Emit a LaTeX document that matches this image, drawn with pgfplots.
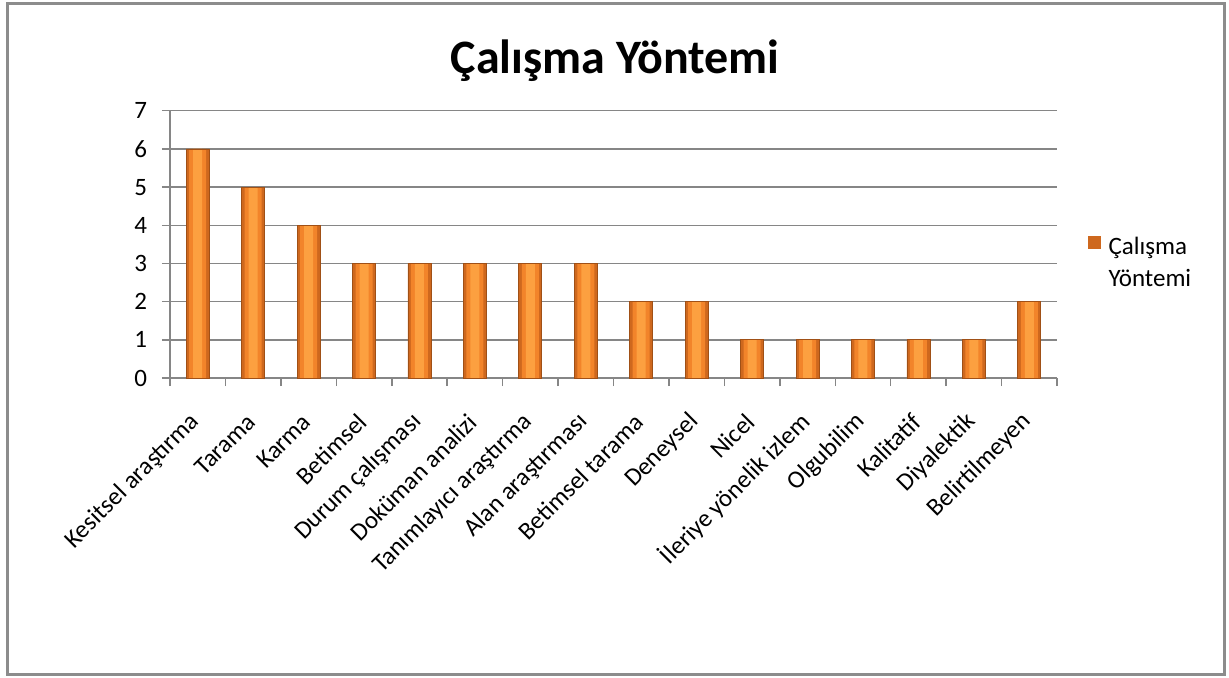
\documentclass[border=0pt]{standalone}
\usepackage{fontspec}
\setmainfont{Carlito}
\usepackage{pgfplots}
\usepackage{pgfplotstable}
\pgfplotsset{compat=1.18}
\definecolor{barlight}{RGB}{252,160,64}
\definecolor{barmid}{RGB}{242,132,42}
\definecolor{baredge}{RGB}{206,104,30}
\definecolor{bardark}{RGB}{160,80,22}
\definecolor{gridgray}{RGB}{134,134,134}
\definecolor{framegray}{RGB}{140,140,140}

% category index, count
\pgfplotstableread{
idx n
0 6
1 5
2 4
3 3
4 3
5 3
6 3
7 3
8 2
9 2
10 1
11 1
12 1
13 1
14 1
15 2
}\methods

\begin{document}
\begin{tikzpicture}
  % canvas: 1 px of the reference = 0.5pt
  \useasboundingbox (0pt,0pt) rectangle (614.5pt,338.5pt);
  \draw[framegray, line width=1.5pt] (3.5pt,1.2pt) rectangle (612pt,337pt);
  \node[font=\fontsize{24}{28}\selectfont\bfseries, anchor=base] at (307.5pt,302pt) {Çalışma Yöntemi};

  \begin{axis}[
    at={(85pt,149.5pt)}, anchor=south west,
    scale only axis,
    width=443.5pt, height=133.65pt,
    xmin=-0.5, xmax=15.5,
    ymin=0, ymax=7,
    axis x line*=bottom, axis y line*=left,
    axis line style={-, gridgray, line width=0.75pt},
    xtick={0,...,15},
    xticklabels={Kesitsel araştırma, Tarama, Karma, Betimsel, Durum çalışması,
      Doküman analizi, Tanımlayıcı araştırma, Alan araştırması, Betimsel tarama,
      Deneysel, Nicel, İleriye yönelik izlem, Olgubilim, Kalitatif, Diyalektik,
      Belirtilmeyen},
    minor xtick={-0.5,0.5,...,15.5},
    major x tick style={draw=none},
    ytick={0,...,7},
    tick align=outside,
    major tick length=4pt, minor tick length=4pt,
    tick style={gridgray, line width=0.75pt},
    ymajorgrids,
    grid style={gridgray, line width=0.75pt},
    tick label style={font=\fontsize{12.5}{15}\selectfont},
    /pgf/number format/assume math mode=true,
    xticklabel style={xshift=1.5pt, yshift=-13.5pt, rotate=45, anchor=east},
    yticklabel style={xshift=-4pt},
    legend style={at={(1.028,0.56)}, anchor=north west, draw=none,
      font=\fontsize{12.5}{16}\selectfont, cells={align=left}},
    legend image code/.code={\fill[barmid] (0pt,7.5pt) rectangle (6pt,13.5pt);
      \fill[barlight] (1.5pt,9pt) rectangle (4.5pt,12pt);
      \draw[baredge, line width=0.3pt] (0pt,7.5pt) rectangle (6pt,13.5pt);
      \path (8pt,10pt);},
  ]
    \addplot[ybar, bar shift=0pt, bar width=11.5pt, draw=none, fill=baredge]
      table[x=idx, y=n] {\methods};
    \addlegendentry{Çalışma\\Yöntemi}
    \addplot[ybar, bar shift=0pt, bar width=8.5pt, draw=none, fill=barmid, forget plot]
      table[x=idx, y=n] {\methods};
    \addplot[ybar, bar shift=0pt, bar width=4.5pt, draw=none, fill=barlight, forget plot]
      table[x=idx, y=n] {\methods};
    \addplot[ybar, bar shift=0pt, bar width=11.5pt, draw=bardark, line width=0.4pt,
      fill=none, forget plot]
      table[x=idx, y=n] {\methods};
  \end{axis}
\end{tikzpicture}
\end{document}
